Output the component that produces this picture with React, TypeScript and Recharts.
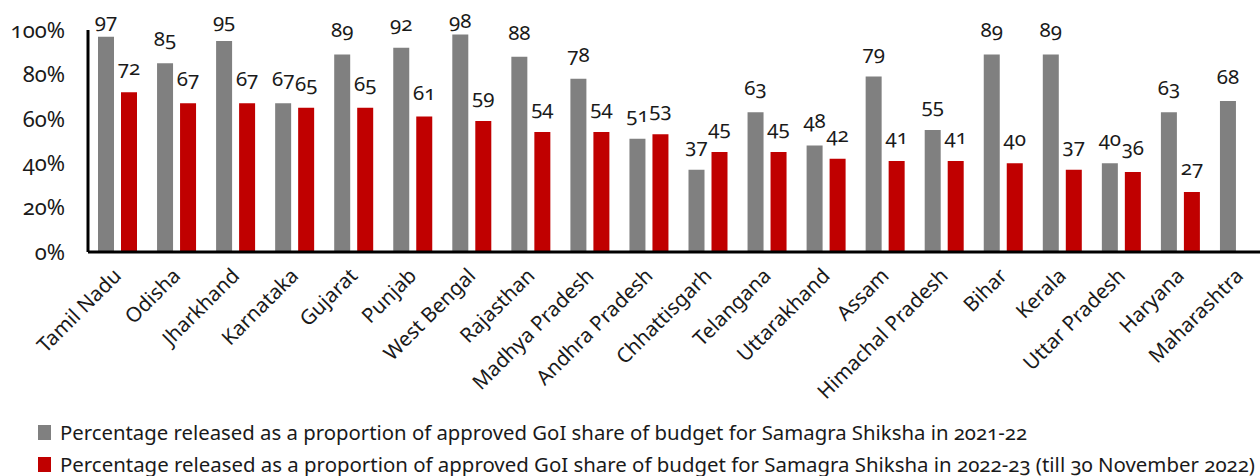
import React from 'react';
import { BarChart, Bar, XAxis, YAxis, Legend, LabelList } from 'recharts';

const states = ['Tamil Nadu', 'Odisha', 'Jharkhand', 'Karnataka', 'Gujarat', 'Punjab', 'West Bengal', 'Rajasthan', 'Madhya Pradesh', 'Andhra Pradesh', 'Chhattisgarh', 'Telangana', 'Uttarakhand', 'Assam', 'Himachal Pradesh', 'Bihar', 'Kerala', 'Uttar Pradesh', 'Haryana', 'Maharashtra'];
const released2122 = [97, 85, 95, 67, 89, 92, 98, 88, 78, 51, 37, 63, 48, 79, 55, 89, 89, 40, 63, 68];
const released2223 = [72, 67, 67, 65, 65, 61, 59, 54, 54, 53, 45, 45, 42, 41, 41, 40, 37, 36, 27, 0];
const yTicks = [0, 20, 40, 60, 80, 100];
const seriesNames = [
  'Percentage released as a proportion of approved GoI share of budget for Samagra Shiksha in 2021-22',
  'Percentage released as a proportion of approved GoI share of budget for Samagra Shiksha in 2022-23 (till 30 November 2022)',
];

const data = states.map((s, i) => ({ state: s, a: released2122[i], b: released2223[i] }));

const FONT = "'Noto Sans', sans-serif";
const GREY = '#808080';
const RED = '#C00000';

const numStyle: React.CSSProperties = { fontVariantNumeric: 'oldstyle-nums', fontFeatureSettings: '"onum"' };

const ValueLabel = (props: any) => {
  const { x, y, width, value } = props;
  const cy = Math.max(y - 25, 20);
  return (
    <text x={x + width / 2} y={cy} textAnchor="middle" dominantBaseline="central" fontFamily={FONT} fontSize={20.5} fill="#1a1a1a" style={numStyle}>
      {value}
    </text>
  );
};

const CatTick = (props: any) => {
  const { x, y, payload } = props;
  const tx = x + 5;
  const ty = y + 25;
  return (
    <text x={tx} y={ty} textAnchor="end" transform={`rotate(-45 ${tx} ${ty})`} fontFamily={FONT} fontSize={20.5} fill="#1a1a1a">
      {payload.value}
    </text>
  );
};

const LegendContent = () => (
  <svg width={1260} height={70} style={{ display: 'block' }}>
    <rect x={38} y={19} width={13} height={15} fill={GREY} />
    <text x={60} y={34} fontFamily={FONT} fontSize={20} fill="#1a1a1a" textLength={967} lengthAdjust="spacingAndGlyphs" style={numStyle}>
      {seriesNames[0]}
    </text>
    <rect x={38} y={51} width={13} height={15} fill={RED} />
    <text x={60} y={65.5} fontFamily={FONT} fontSize={20} fill="#1a1a1a" textLength={1195} lengthAdjust="spacingAndGlyphs" style={numStyle}>
      {seriesNames[1]}
    </text>
  </svg>
);

export default function App() {
  return (
    <div style={{ position: 'fixed', left: 0, top: 0, width: 1260, height: 476, overflow: 'hidden', background: '#fff' }}>
      <BarChart width={1290} height={476} data={data} margin={{ top: 30, right: 21, bottom: 0, left: 28 }} barSize={16} barGap={7}>
        <YAxis
          domain={[0, 100]}
          ticks={yTicks}
          tickFormatter={(v: number) => `${v}%`}
          width={60}
          tickLine={false}
          tickSize={0}
          tickMargin={23}
          axisLine={{ stroke: '#000', strokeWidth: 3 }}
          tick={{ fontFamily: FONT, fontSize: 22, fill: '#1a1a1a', style: numStyle }}
        />
        <XAxis
          dataKey="state"
          interval={0}
          height={154}
          tickLine={false}
          tickSize={0}
          tickMargin={0}
          axisLine={{ stroke: '#000', strokeWidth: 3 }}
          tick={<CatTick />}
        />
        <Legend verticalAlign="bottom" align="left" height={70} content={<LegendContent />} wrapperStyle={{ left: 0 }} />
        <Bar dataKey="a" name={seriesNames[0]} fill={GREY} isAnimationActive={false}>
          <LabelList dataKey="a" content={<ValueLabel />} />
        </Bar>
        <Bar dataKey="b" name={seriesNames[1]} fill={RED} isAnimationActive={false}>
          <LabelList dataKey="b" content={<ValueLabel />} />
        </Bar>
      </BarChart>
    </div>
  );
}
